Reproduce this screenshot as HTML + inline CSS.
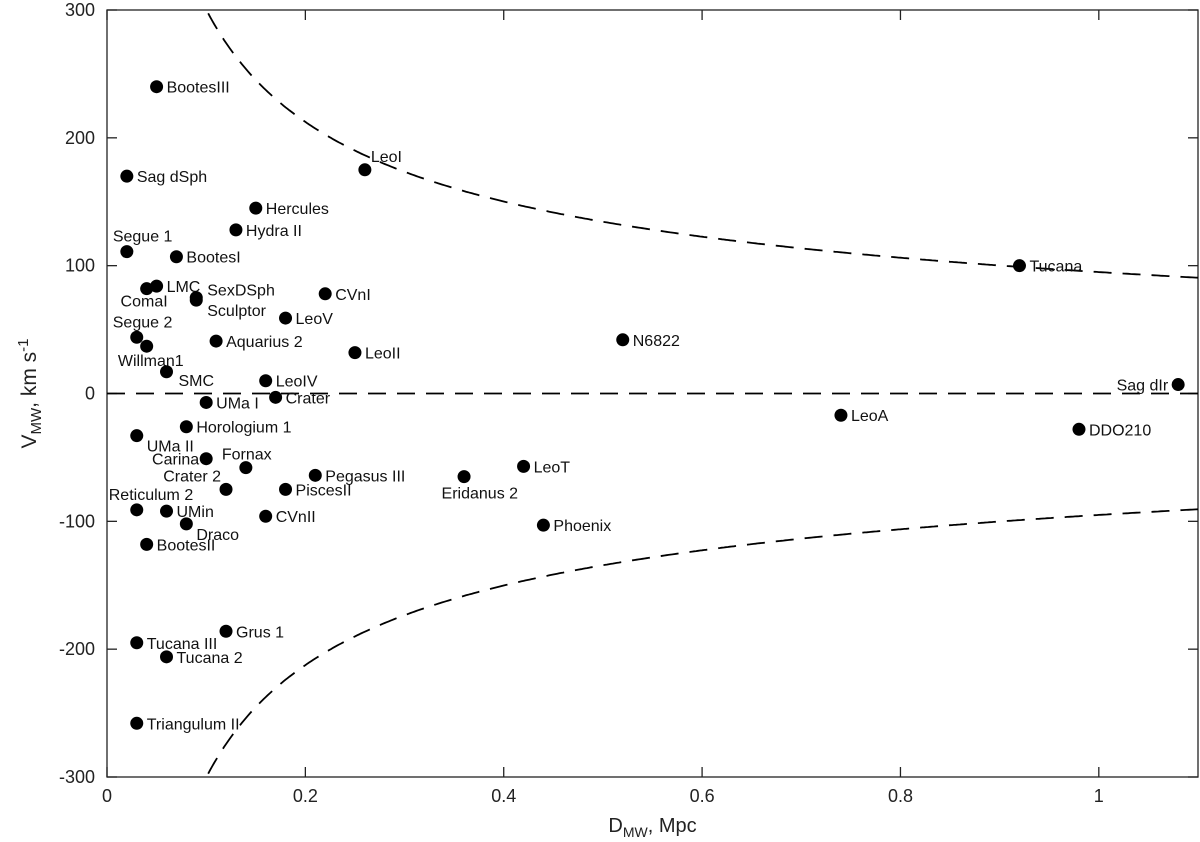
<!DOCTYPE html>
<html><head><meta charset="utf-8">
<style>
html,body{margin:0;padding:0;background:#fff;}
svg{display:block;font-family:"Liberation Sans",sans-serif;}
</style></head>
<body>
<svg id="chart" width="1200" height="842" viewBox="0 0 1200 842" xmlns="http://www.w3.org/2000/svg"></svg>
<script>
const names = ["BootesIII","Sag dSph","LeoI","Hercules","Hydra II","Segue 1","BootesI","Tucana","LMC","ComaI","SexDSph","Sculptor","CVnI","LeoV","Segue 2","Willman1","Aquarius 2","LeoII","N6822","SMC","LeoIV","Sag dIr","UMa I","Crater","LeoA","Horologium 1","UMa II","DDO210","Carina","Fornax","Pegasus III","Eridanus 2","LeoT","Crater 2","PiscesII","Reticulum 2","UMin","CVnII","Draco","Phoenix","BootesII","Grus 1","Tucana III","Tucana 2","Triangulum II"];
const distances = [0.05,0.02,0.26,0.15,0.13,0.02,0.07,0.92,0.05,0.04,0.09,0.09,0.22,0.18,0.03,0.04,0.11,0.25,0.52,0.06,0.16,1.08,0.10,0.17,0.74,0.08,0.03,0.98,0.10,0.14,0.21,0.36,0.42,0.12,0.18,0.03,0.06,0.16,0.08,0.44,0.04,0.12,0.03,0.06,0.03];
const velocities = [240,170,175,145,128,111,107,100,84,82,75,73,78,59,44,37,41,32,42,17,10,7,-7,-3,-17,-26,-33,-28,-51,-58,-64,-65,-57,-75,-75,-91,-92,-96,-102,-103,-118,-186,-195,-206,-258];
// label offsets relative to each point: [dx, dy, anchor]
const labelOffsets = [
[10,6,'s'],[10,6,'s'],[6,-8,'s'],[10,6,'s'],[10,6,'s'],[-14,-10,'s'],[10,6,'s'],[10,6,'s'],[10,6,'s'],[21,18,'e'],
[11,-2,'s'],[11,16,'s'],[10,6,'s'],[10,6,'s'],[-24,-10,'s'],[37,20,'e'],[10,6,'s'],[10,6,'s'],[10,6,'s'],[12,14,'s'],
[10,6,'s'],[-10,6,'e'],[10,6,'s'],[10,6,'s'],[10,6,'s'],[10,6,'s'],[10,16,'s'],[10,6,'s'],[-7,6,'e'],[-24,-8,'s'],
[10,6,'s'],[54,22,'e'],[10,6,'s'],[-5,-8,'e'],[10,6,'s'],[-28,-10,'s'],[10,6,'s'],[10,6,'s'],[10,16,'s'],[10,6,'s'],
[10,6,'s'],[10,6,'s'],[10,6,'s'],[10,6,'s'],[10,6,'s']];
const xTicks = [0,0.2,0.4,0.6,0.8,1];
const xTickLabels = ["0","0.2","0.4","0.6","0.8","1"];
const yTicks = [-300,-200,-100,0,100,200,300];
const yTickLabels = ["-300","-200","-100","0","100","200","300"];
const escapeK = 95;

const L=107,R=1198,T=10,B=777;
const xMin=0,xMax=1.1,yMin=-300,yMax=300;
const xs=v=>L+(v-xMin)/(xMax-xMin)*(R-L);
const ys=v=>B-(v-yMin)/(yMax-yMin)*(B-T);
const svg=document.getElementById('chart');
const NS="http://www.w3.org/2000/svg";
function mk(tag,attrs,parent){const e=document.createElementNS(NS,tag);for(const k in attrs)e.setAttribute(k,attrs[k]);(parent||svg).appendChild(e);return e;}

const frame=mk('rect',{x:L,y:T,width:R-L,height:B-T,fill:'none',stroke:'#222','stroke-width':1.3});



xTicks.forEach((t,i)=>{
  const x=xs(t);
  const tk=mk('line',{x1:x,x2:x,y1:B,y2:B-10,stroke:'#222','stroke-width':1.3});
  
  
  const tk2=mk('line',{x1:x,x2:x,y1:T,y2:T+10,stroke:'#222','stroke-width':1.3});
  
  
  const lb=mk('text',{x:x,y:B+25,'text-anchor':'middle','font-size':18,fill:'#222'});
  lb.textContent=xTickLabels[i];
  
  
});
yTicks.forEach((t,i)=>{
  const y=ys(t);
  const tk=mk('line',{x1:L,x2:L+10,y1:y,y2:y,stroke:'#222','stroke-width':1.3});
  
  
  const tk2=mk('line',{x1:R,x2:R-10,y1:y,y2:y,stroke:'#222','stroke-width':1.3});
  
  
  const lb=mk('text',{x:L-12,y:y+6,'text-anchor':'end','font-size':18,fill:'#222'});
  lb.textContent=yTickLabels[i];
  
  
});

const zl=mk('line',{x1:L,x2:R,y1:ys(0),y2:ys(0),stroke:'#000','stroke-width':1.8,'stroke-dasharray':'18,11'});



[1,-1].forEach(sg=>{
  let d='';let started=false;
  for(let D=0.05;D<=1.1001;D+=0.002){
    const v=sg*escapeK/Math.sqrt(D);
    if(Math.abs(v)>300)continue;
    d+=(started?'L':'M')+xs(D).toFixed(1)+','+ys(v).toFixed(1);started=true;
  }
  const p=mk('path',{d:d,fill:'none',stroke:'#000','stroke-width':1.8,'stroke-dasharray':'18,11'});
  
  
});

names.forEach((n,i)=>{
  const cx=xs(distances[i]),cy=ys(velocities[i]);
  const c=mk('circle',{cx:cx,cy:cy,r:6.5,fill:'#000'});
  
  
  const o=labelOffsets[i];
  const t=mk('text',{x:cx+o[0],y:cy+o[1],'text-anchor':o[2]==='e'?'end':'start','font-size':16,fill:'#111'});
  t.textContent=n;
  
  
});

const xt=mk('text',{x:(L+R)/2,y:832,'text-anchor':'middle','font-size':20,fill:'#222'});


xt.innerHTML='D<tspan font-size="14" dy="5">MW</tspan><tspan dy="-5">, Mpc</tspan>';
const yt=mk('text',{x:0,y:0,'text-anchor':'middle','font-size':21,fill:'#222',transform:'translate(36,'+((T+B)/2)+') rotate(-90)'});


yt.innerHTML='V<tspan font-size="15" dy="5">MW</tspan><tspan dy="-5">, km s</tspan><tspan font-size="15" dy="-8">-1</tspan>';
</script>
</body></html>
